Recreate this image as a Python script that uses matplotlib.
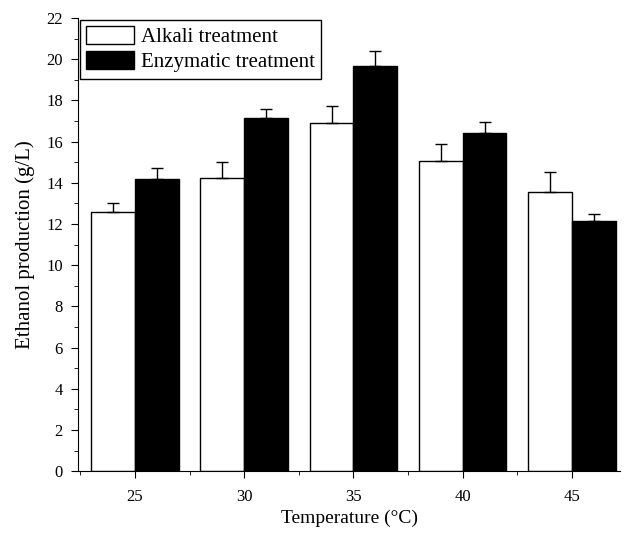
import matplotlib
matplotlib.use('Agg')

import numpy as np
import matplotlib.pyplot as plt
from matplotlib.ticker import MultipleLocator

# 数据
temps = [25, 30, 35, 40, 45]
alkali = [12.57, 14.25, 16.9, 15.05, 13.55]
alkali_err = [0.43, 0.75, 0.85, 0.85, 1.0]
enzym = [14.2, 17.15, 19.68, 16.4, 12.17]
enzym_err = [0.52, 0.45, 0.72, 0.55, 0.3]

plt.rcParams['font.family'] = ['Liberation Serif', 'DejaVu Serif']

fig = plt.figure(figsize=(6.25, 5.33), dpi=100)
ax = fig.add_axes([0.125, 0.116, 0.867, 0.85])

x = np.array(temps, dtype=float)
w = 2.0
ax.bar(x - w / 2, alkali, width=w, color='white', edgecolor='black', linewidth=1,
       yerr=[np.zeros(len(alkali)), alkali_err], capsize=4,
       error_kw=dict(elinewidth=1, capthick=1, ecolor='black'),
       label='Alkali treatment')
ax.bar(x + w / 2, enzym, width=w, color='black', edgecolor='black', linewidth=1,
       yerr=[np.zeros(len(enzym)), enzym_err], capsize=4,
       error_kw=dict(elinewidth=1, capthick=1, ecolor='black'),
       label='Enzymatic treatment')

ax.set_xlim(22.4, 47.2)
ax.set_ylim(0, 22)
ax.set_xticks(temps)
ax.xaxis.set_minor_locator(MultipleLocator(2.5))
ax.yaxis.set_major_locator(MultipleLocator(2))
ax.yaxis.set_minor_locator(MultipleLocator(1))
ax.tick_params(which='both', direction='out', labelsize=12)
ax.tick_params(which='major', length=5)
ax.tick_params(which='minor', length=3)
ax.tick_params(axis='y', which='major', pad=6)
ax.tick_params(axis='x', which='major', pad=8)

ax.spines['top'].set_visible(False)
ax.spines['right'].set_visible(False)

ax.set_xlabel('Temperature (°C)', fontsize=14, labelpad=3)
ax.set_ylabel('Ethanol production (g/L)', fontsize=15, labelpad=8)

leg = ax.legend(loc='upper left', fontsize=15, frameon=True, fancybox=False,
                edgecolor='black', framealpha=1, borderaxespad=0.1,
                handlelength=2.3, handleheight=0.9, handletextpad=0.3,
                labelspacing=0.2, borderpad=0.3)
leg.get_frame().set_linewidth(1)

fig.savefig('out.png', dpi=100)
